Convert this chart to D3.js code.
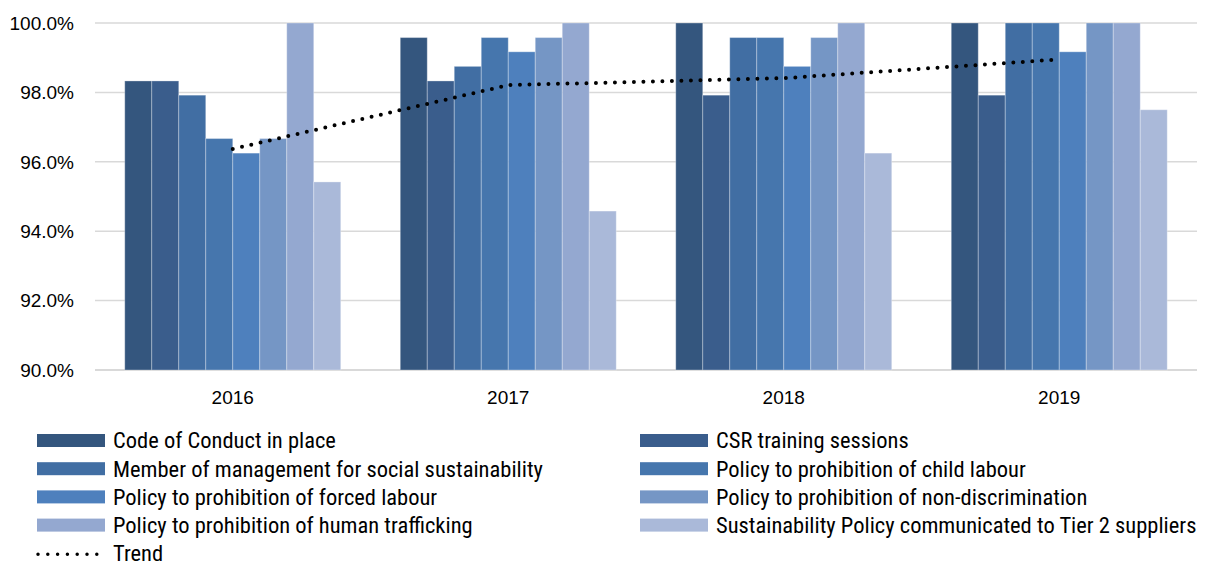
<!DOCTYPE html>
<html><head>
<meta charset="utf-8">
<script src="https://d3js.org/d3.v7.min.js"></script>
<style>
  body { margin: 0; background: #fff; }
  .tick-label { font-family: "Liberation Sans", Arial, sans-serif; font-size: 19px; fill: #000; }
  .legend-label { font-family: "Liberation Sans Narrow", "Roboto Condensed", "Liberation Sans", sans-serif; font-size: 22.5px; fill: #000; }
</style>
</head>
<body>
<svg id="chart" width="1216" height="565"></svg>
<script>
  // categories + series
  const years = ["2016", "2017", "2018", "2019"];
  const series = [
    "Code of Conduct in place",
    "CSR training sessions",
    "Member of management for social sustainability",
    "Policy to prohibition of child labour",
    "Policy to prohibition of forced labour",
    "Policy to prohibition of non-discrimination",
    "Policy to prohibition of human trafficking",
    "Sustainability Policy communicated to Tier 2 suppliers"
  ];
  const colors = ["#34567e", "#3a5d8c", "#416ea3", "#4676ad", "#4e80bd", "#7596c5", "#94a8d0", "#aab9d9"];

  // values per series, one per year (%)
  const codeOfConduct   = [98.33, 99.58, 100.0, 100.0];
  const csrTraining     = [98.33, 98.33, 97.92, 97.92];
  const management      = [97.92, 98.75, 99.58, 100.0];
  const childLabour     = [96.67, 99.58, 99.58, 100.0];
  const forcedLabour    = [96.25, 99.17, 98.75, 99.17];
  const nonDiscrim      = [96.67, 99.58, 99.58, 100.0];
  const trafficking     = [100.0, 100.0, 100.0, 100.0];
  const tier2           = [95.42, 94.58, 96.25, 97.50];
  const trend           = [96.37, 98.21, 98.41, 98.95];

  const values = [codeOfConduct, csrTraining, management, childLabour, forcedLabour, nonDiscrim, trafficking, tier2];
  const yTicks = [90, 92, 94, 96, 98, 100];

  const svg = d3.select("#chart");

  const x0 = d3.scaleBand().domain(years).range([95, 1197]).paddingInner(0.216).paddingOuter(0.108);
  const x1 = d3.scaleBand().domain(d3.range(series.length)).range([0, x0.bandwidth()]);
  const y = d3.scaleLinear().domain([90, 100]).range([370, 23]);

  // gridlines
  svg.append("g").selectAll("line").data(yTicks).join("line")
     .attr("x1", 95).attr("x2", 1197)
     .attr("y1", d => y(d)).attr("y2", d => y(d))
     .attr("stroke", "#d9d9d9").attr("stroke-width", d => d === 90 ? 2 : 1.5);

  // y tick labels
  svg.append("g").selectAll("text").data(yTicks).join("text")
     .attr("class", "tick-label")
     .attr("x", 74).attr("y", d => y(d))
     .attr("dy", "0.36em")
     .attr("text-anchor", "end")
     .text(d => d3.format(".1f")(d) + "%");

  // bars
  const groups = svg.append("g").selectAll("g").data(years).join("g")
     .attr("transform", d => `translate(${x0(d)},0)`);

  groups.selectAll("rect")
     .data((yr, yi) => values.map((v, si) => ({ si: si, v: v[yi] })))
     .join("rect")
     .attr("x", d => x1(d.si))
     .attr("width", x1.bandwidth())
     .attr("y", d => y(d.v))
     .attr("height", d => y(90) - y(d.v))
     .attr("fill", d => colors[d.si])
     .attr("stroke", "rgba(255,255,255,0.3)")
     .attr("stroke-width", 1);

  // x labels
  svg.append("g").selectAll("text").data(years).join("text")
     .attr("class", "tick-label")
     .attr("x", d => x0(d) + x0.bandwidth() / 2)
     .attr("y", 404)
     .attr("text-anchor", "middle")
     .text(d => d);

  // trend line (dotted)
  const line = d3.line()
     .x((d, i) => x0(years[i]) + x0.bandwidth() / 2)
     .y(d => y(d));
  svg.append("path")
     .datum(trend)
     .attr("d", line)
     .attr("fill", "none")
     .attr("stroke", "#000")
     .attr("stroke-width", 4)
     .attr("stroke-linecap", "round")
     .attr("stroke-dasharray", "0 9.5");

  // legend
  const legend = svg.append("g");
  const colX = [37, 640];
  const rowY = d => 440.5 + d * 28.2;

  series.forEach((name, i) => {
    const cx = colX[i % 2], cy = rowY(Math.floor(i / 2));
    legend.append("rect")
      .attr("x", cx).attr("y", cy - 6.5)
      .attr("width", 68).attr("height", 13)
      .attr("fill", colors[i]);
    legend.append("text")
      .attr("class", "legend-label")
      .attr("x", cx + 76).attr("y", cy + 7.8)
      .text(name);
  });

  legend.append("line")
    .attr("x1", 38).attr("x2", 97)
    .attr("y1", rowY(4) + 1).attr("y2", rowY(4) + 1)
    .attr("stroke", "#000").attr("stroke-width", 3.5)
    .attr("stroke-linecap", "round")
    .attr("stroke-dasharray", "0 9.8");
  legend.append("text")
    .attr("class", "legend-label")
    .attr("x", 113).attr("y", rowY(4) + 7.8)
    .text("Trend");
</script>
</body>
</html>
